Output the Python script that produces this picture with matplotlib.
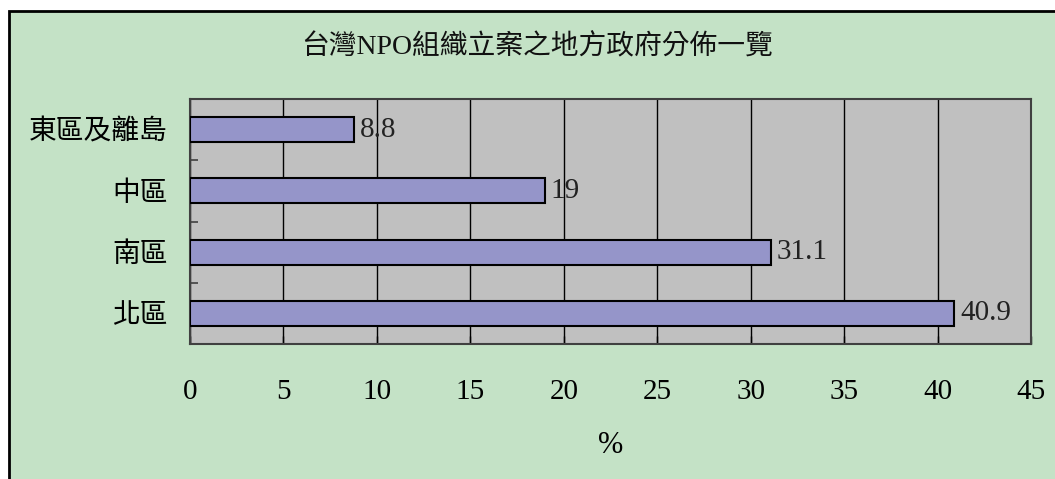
import matplotlib
matplotlib.use('Agg')
import matplotlib.pyplot as plt
from matplotlib.patches import Rectangle

plt.rcParams['font.family'] = ['Liberation Serif', 'Noto Sans CJK TC', 'DejaVu Sans']

regions = ['北區', '南區', '中區', '東區及離島']
values = [40.9, 31.1, 19, 8.8]
value_labels = ['40.9', '31.1', '19', '8.8']
title = '台灣NPO組織立案之地方政府分佈一覽'

W, H = 1055, 479
fig = plt.figure(figsize=(W / 100, H / 100), dpi=100, facecolor='white')

# chart area box (runs off the right and bottom edges like the original)
bg = Rectangle((9 / W, -0.05), 1.1, (H - 11) / H + 0.05, transform=fig.transFigure,
               facecolor='#C4E2C6', edgecolor='black', linewidth=2, zorder=-10)
fig.patches.append(bg)

left, right, top, bottom = 190, 1031, 99, 344
ax = fig.add_axes([left / W, 1 - bottom / H, (right - left) / W, (bottom - top) / H])
ax.set_facecolor('#C0C0C0')

ypos = list(range(len(regions)))
ax.barh(ypos, values, height=0.41, color='#9595C9', edgecolor='black', linewidth=1.5, zorder=3)
for y, v, lab in zip(ypos, values, value_labels):
    ax.text(v + 0.3, y, lab, va='center', ha='left', fontsize=21, color='#222222', zorder=4)

ax.set_xlim(0, 45)
ax.set_ylim(-0.5, 3.5)
ax.set_xticks(range(0, 46, 5))
ax.xaxis.grid(True, color='black', linewidth=1)
ax.set_axisbelow(True)

ax.set_yticks(ypos)
ax.set_yticklabels(regions, fontsize=20)
ax.set_yticks([-0.5, 0.5, 1.5, 2.5, 3.5], minor=True)
ax.tick_params(axis='y', which='major', length=0, pad=16)
ax.tick_params(axis='y', which='minor', direction='in', length=6, width=1.2, color='#404040')
ax.tick_params(axis='x', which='major', direction='in', length=6, width=1, pad=25, labelsize=21)

for s in ax.spines.values():
    s.set_color('#404040')
    s.set_linewidth(1.5)

ax.set_xlabel('%', fontsize=22, labelpad=19)

fig.text(537 / W, 1 - 47 / H, title, ha='center', va='center', fontsize=20, color='#111111')

fig.savefig('out.png', dpi=100)
